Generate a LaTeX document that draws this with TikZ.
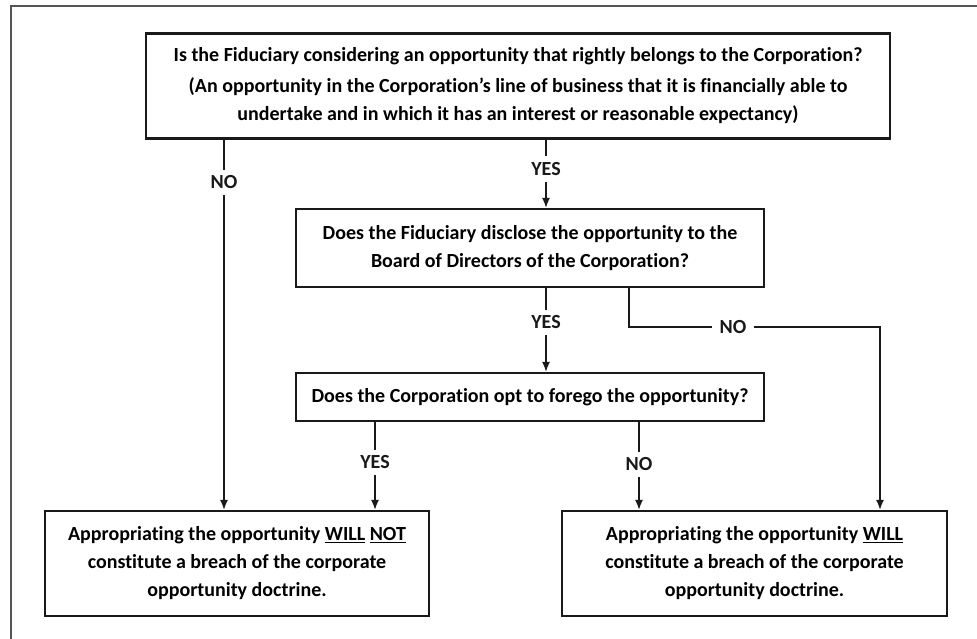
\documentclass[tikz,border=0pt]{standalone}
\usepackage{fontspec}
\setmainfont{Carlito}[Ligatures=NoCommon]
\usepackage{tikz}
\usetikzlibrary{arrows,arrows.meta,positioning}
\usepackage{xcolor}
\definecolor{fcblack}{RGB}{25,25,25}
\definecolor{fcframe}{RGB}{85,85,85}
\tikzstyle{arrow} = [line width=1.6pt,->,>={Latex[length=10pt,width=8pt]},color=fcblack]
\tikzstyle{question} = [rectangle, draw=fcblack, line width=2.2pt, fill=white, align=center, inner sep=0pt, font=\fontsize{20}{28}\selectfont\bfseries]
\tikzstyle{answer} = [fill=white, inner xsep=8pt, inner ysep=6pt, text=fcblack, font=\fontsize{20}{22}\selectfont\bfseries]
\tikzstyle{frame} = [line width=2pt, color=fcframe]

\begin{document}
\begin{tikzpicture}[x=1pt, y=-1pt]
% page and frame
\useasboundingbox (0,0) rectangle (977,639);
\draw[frame] (11,639) -- (11,6) -- (977,6);

% Questions
\node (q1) [question, minimum width=744pt, minimum height=105pt] at (518,86) {Is the Fiduciary considering an opportunity that rightly belongs to the Corporation?\\[3pt]
  (An opportunity in the Corporation’s line of business that it is financially able to\\
  undertake and in which it has an interest or reasonable expectancy)};
\node (q2) [question, minimum width=468pt, minimum height=78pt] at (530,248) {Does the Fiduciary disclose the opportunity to the\\ Board of Directors of the Corporation?};
\node (q3) [question, minimum width=468pt, minimum height=48pt] at (530,397) {Does the Corporation opt to forego the opportunity?};

% Outcomes
\node (notbreach) [question, minimum width=384pt, minimum height=105pt] at (237,563.5) {Appropriating the opportunity \underline{WILL} \underline{NOT}\\ constitute a breach of the corporate\\ opportunity doctrine.};
\node (breach) [question, minimum width=385pt, minimum height=105pt] at (754.5,563.5) {Appropriating the opportunity \underline{WILL}\\ constitute a breach of the corporate\\ opportunity doctrine.};

% Branch columns
\coordinate (c1) at (224,0);
\coordinate (c2) at (546,0);
\coordinate (c3) at (629,0);
\coordinate (c4) at (880,327);
\coordinate (c5) at (375,0);
\coordinate (c6) at (639,0);

\draw[arrow] (q1.south -| c2) -- node[answer, pos=0.43] {YES} (q2.north -| c2);
\draw[arrow] (q1.south -| c1) -- node[answer, pos=0.115] {NO} (notbreach.north -| c1);
\draw[arrow] (q2.south -| c2) -- node[answer, pos=0.41] {YES} (q3.north -| c2);
\draw[arrow] (q2.south -| c3) |- node[answer, pos=0.707] {NO} (c4) -- (breach.north -| c4);
\draw[arrow] (q3.south -| c5) -- node[answer, pos=0.46] {YES} (notbreach.north -| c5);
\draw[arrow] (q3.south -| c6) -- node[answer, pos=0.48] {NO} (breach.north -| c6);
\end{tikzpicture}
\end{document}
